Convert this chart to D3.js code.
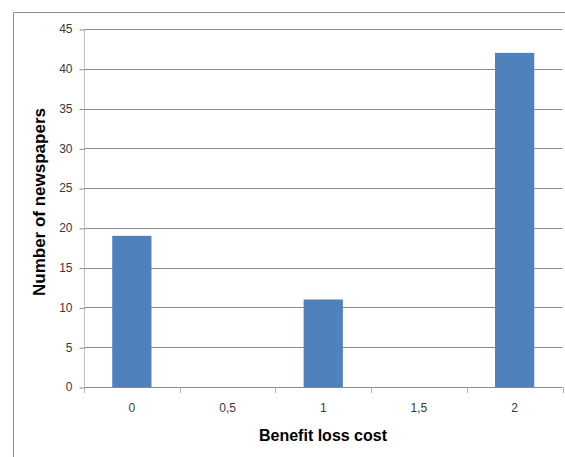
<!DOCTYPE html>
<html>
<head>
<meta charset="utf-8">
<script src="https://cdn.jsdelivr.net/npm/d3@7"></script>
<style>
  html, body { margin: 0; padding: 0; background: #fff; }
  svg { display: block; }
  text { font-family: "Liberation Sans", "DejaVu Sans", sans-serif; }
</style>
</head>
<body>
<svg id="chart" width="565" height="457"></svg>
<script>
// Benefit loss cost categories and counts of newspapers
const categories = ["0", "0,5", "1", "1,5", "2"];
const counts = [19, 0, 11, 0, 42];
const yTicks = [0, 5, 10, 15, 20, 25, 30, 35, 40, 45];

const svg = d3.select("#chart");
const W = 565, H = 457;
const plot = { left: 84, right: 562.5, top: 29, bottom: 387 };

// Outer chart frame (top and left edges visible)
svg.append("path")
  .attr("d", `M13.5,${H} L13.5,12.5 L${W},12.5`)
  .attr("fill", "none")
  .attr("stroke", "#8c8c8c")
  .attr("stroke-width", 1);

const x = d3.scaleBand()
  .domain(categories)
  .range([plot.left, plot.right])
  .paddingInner(0.59)
  .paddingOuter(0.295);

const xOuter = d3.scaleBand()
  .domain(categories)
  .range([plot.left, plot.right]);

const y = d3.scaleLinear()
  .domain([0, 45])
  .range([plot.bottom, plot.top]);

// Horizontal gridlines
svg.append("g")
  .selectAll("line")
  .data(yTicks.filter(d => d > 0))
  .join("line")
  .attr("x1", plot.left)
  .attr("x2", plot.right)
  .attr("y1", d => Math.round(y(d)) + 0.5)
  .attr("y2", d => Math.round(y(d)) + 0.5)
  .attr("stroke", "#8a8a8a")
  .attr("stroke-width", 1);

// Bars
svg.append("g")
  .selectAll("rect")
  .data(categories.map((c, i) => ({ c, v: counts[i] })).filter(d => d.v > 0))
  .join("rect")
  .attr("x", d => x(d.c))
  .attr("width", x.bandwidth())
  .attr("y", d => y(d.v))
  .attr("height", d => y(0) - y(d.v))
  .attr("fill", "#4f81bd");

// Y axis
const yAxis = d3.axisLeft(y)
  .tickValues(yTicks)
  .tickSize(5)
  .tickPadding(7);
const gy = svg.append("g")
  .attr("transform", `translate(${plot.left + 0.5},0)`)
  .call(yAxis);
gy.select(".domain").attr("stroke", "#c0c0c0").attr("d", `M0,${plot.top} V${plot.bottom}`);
gy.selectAll(".tick line").attr("stroke", "#8a8a8a")
  .attr("transform", "translate(0,0.5)");
gy.selectAll(".tick text")
  .attr("font-size", 12)
  .attr("fill", "#3a3a3a")
  .attr("font-family", "Liberation Sans, sans-serif");

// X axis: baseline with ticks between categories
const boundaries = categories.map(c => xOuter(c)).concat([plot.right]);
svg.append("line")
  .attr("x1", plot.left)
  .attr("x2", plot.right)
  .attr("y1", plot.bottom + 0.5)
  .attr("y2", plot.bottom + 0.5)
  .attr("stroke", "#8a8a8a");
svg.append("g")
  .selectAll("line")
  .data(boundaries)
  .join("line")
  .attr("x1", d => Math.round(d) + 0.5)
  .attr("x2", d => Math.round(d) + 0.5)
  .attr("y1", plot.bottom)
  .attr("y2", plot.bottom + 6)
  .attr("stroke", "#b0b0b0");
svg.append("g")
  .selectAll("text")
  .data(categories)
  .join("text")
  .attr("x", d => xOuter(d) + xOuter.bandwidth() / 2)
  .attr("y", 412)
  .attr("text-anchor", "middle")
  .attr("font-size", 12)
  .attr("fill", "#3a3a3a")
  .text(d => d);

// Axis titles
svg.append("text")
  .attr("x", 323)
  .attr("y", 441)
  .attr("text-anchor", "middle")
  .attr("font-size", 16)
  .attr("font-weight", "bold")
  .attr("fill", "#000")
  .text("Benefit loss cost");

svg.append("text")
  .attr("transform", "translate(45,202) rotate(-90)")
  .attr("text-anchor", "middle")
  .attr("font-size", 17)
  .attr("font-weight", "bold")
  .attr("fill", "#000")
  .text("Number of newspapers");
</script>
</body>
</html>
